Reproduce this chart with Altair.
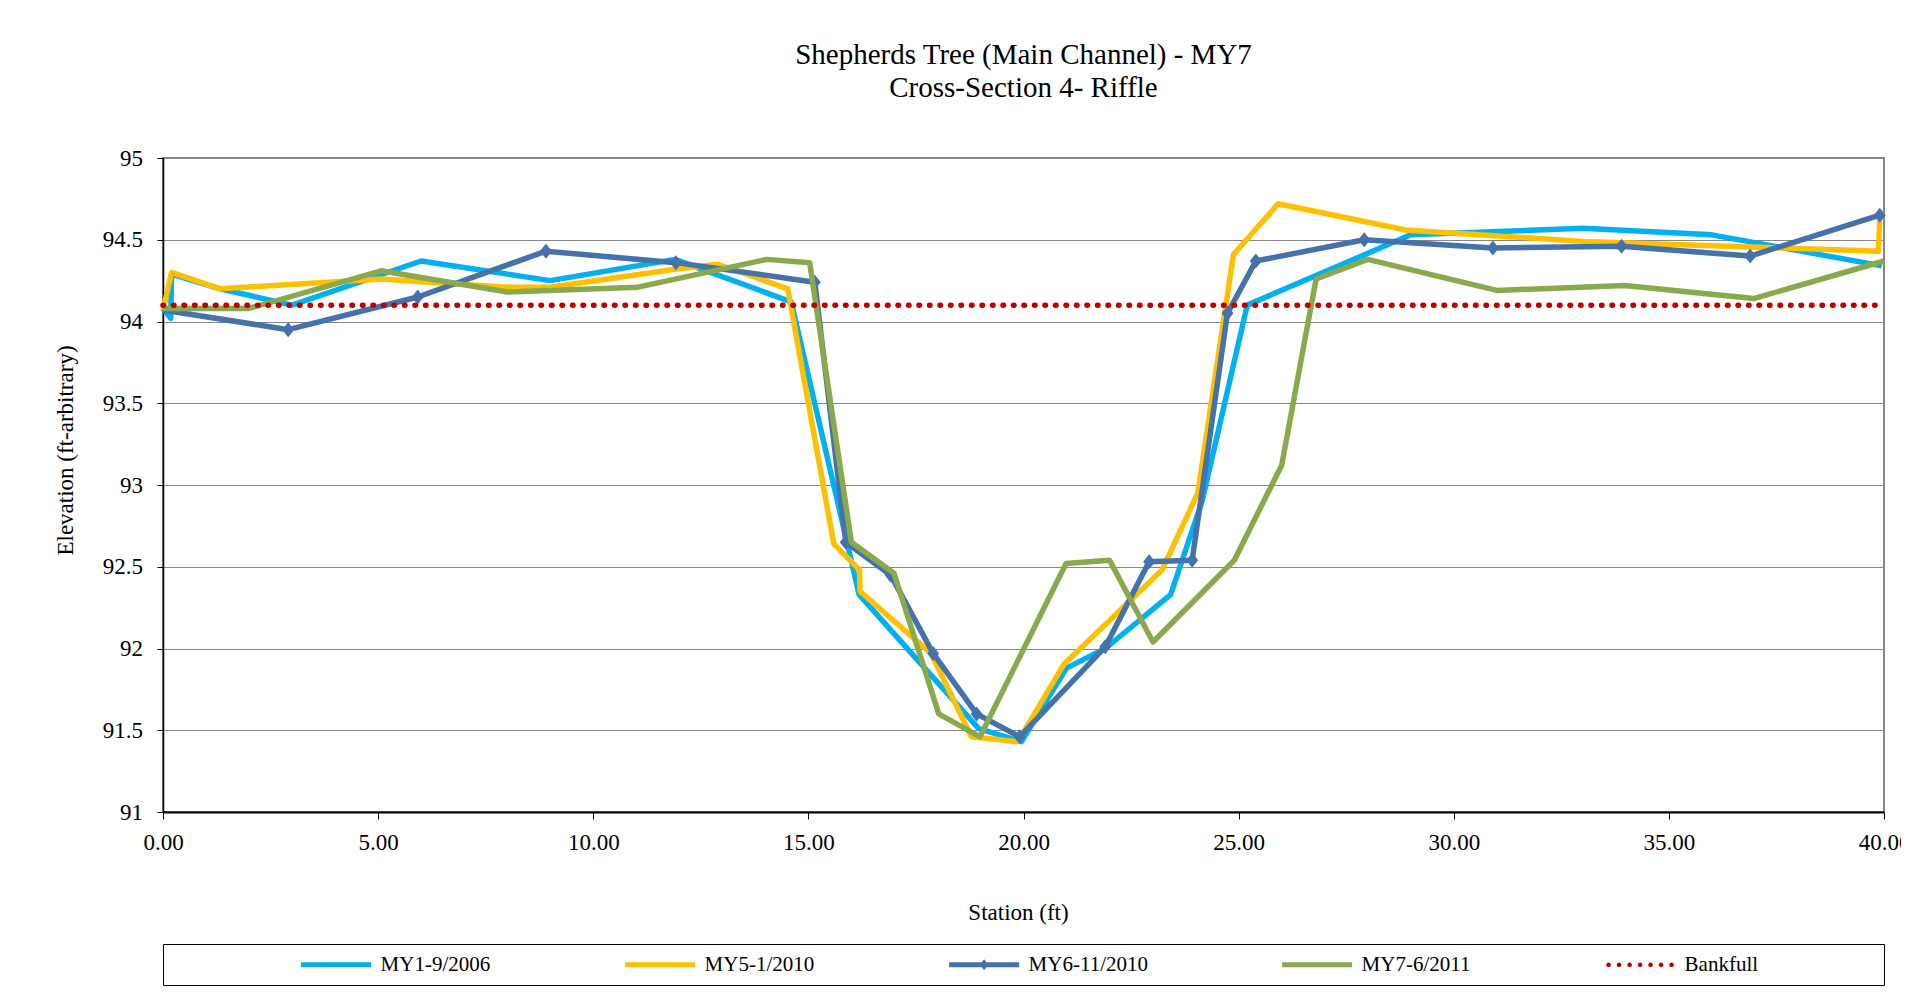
import altair as alt
import pandas as pd

# ---------------- data ----------------
series_names = ["MY1-9/2006", "MY5-1/2010", "MY6-11/2010", "MY7-6/2011", "Bankfull"]
series_colors = ["#00B0F0", "#FFC000", "#4572AB", "#89A94C", "#C00000"]

my1_station = [0.0, 0.18, 0.2, 1.33, 3.0, 6.0, 9.0, 11.9, 14.6, 16.18, 18.96, 19.95,
               21.0, 21.9, 23.42, 24.15, 25.2, 29.0, 33.0, 36.0, 39.95]
my1_elev = [94.08, 94.02, 94.29, 94.2, 94.1, 94.37, 94.25, 94.38, 94.12, 92.33, 91.51, 91.43,
            91.88, 92.0, 92.33, 92.9, 94.1, 94.53, 94.57, 94.53, 94.34]

my5_station = [0.0, 0.2, 1.33, 5.07, 8.0, 9.0, 11.9, 12.9, 14.52, 15.59, 16.19, 16.2, 17.85,
               18.79, 19.87, 20.93, 23.22, 24.05, 24.88, 25.92, 28.88, 33.0, 39.87, 39.9]
my5_elev = [94.07, 94.3, 94.2, 94.26, 94.21, 94.21, 94.32, 94.35, 94.2, 92.64, 92.48, 92.35, 91.97,
            91.46, 91.43, 91.9, 92.48, 92.95, 94.41, 94.72, 94.56, 94.49, 94.43, 94.62]

my6_station = [0.0, 2.91, 5.92, 8.9, 11.92, 15.15, 15.87, 16.91, 17.9, 18.91, 19.91, 21.9,
               22.92, 23.92, 24.74, 25.4, 27.92, 30.91, 33.9, 36.89, 39.9]
my6_elev = [94.07, 93.95, 94.15, 94.43, 94.36, 94.24, 92.65, 92.45, 91.97, 91.6, 91.46, 92.01,
            92.53, 92.54, 94.05, 94.37, 94.5, 94.45, 94.46, 94.4, 94.65]

my7_station = [0.0, 2.0, 5.07, 8.0, 11.04, 14.03, 15.03, 16.0, 16.99, 18.03, 18.99, 20.99,
               22.0, 23.01, 24.9, 26.0, 26.8, 28.0, 31.0, 33.97, 36.97, 40.0]
my7_elev = [94.08, 94.08, 94.31, 94.18, 94.21, 94.38, 94.36, 92.65, 92.46, 91.6, 91.46, 92.52,
            92.54, 92.04, 92.54, 93.12, 94.26, 94.38, 94.19, 94.22, 94.14, 94.37]

bankfull_station = [0.0, 40.0]
bankfull_elev = [94.1, 94.1]

x_ticks = [0, 5, 10, 15, 20, 25, 30, 35, 40]
y_ticks = [91, 91.5, 92, 92.5, 93, 93.5, 94, 94.5, 95]

title_lines = ["Shepherds Tree (Main Channel) - MY7", "Cross-Section 4- Riffle"]
x_title = "Station (ft)"
y_title = "Elevation (ft-arbitrary)"

# ---------------- table ----------------
frames = []
for name, st, el in zip(series_names,
                        [my1_station, my5_station, my6_station, my7_station, bankfull_station],
                        [my1_elev, my5_elev, my6_elev, my7_elev, bankfull_elev]):
    frames.append(pd.DataFrame({"series": name, "station": st, "elev": el, "idx": range(len(st))}))
df = pd.concat(frames, ignore_index=True)

FONT = "Liberation Serif"

# legend symbol shapes (unit = 7 px at symbolSize 196)
SYM_LINE = "M-5,-0.36L5,-0.36L5,0.36L-5,0.36Z"
SYM_MY6 = SYM_LINE + "M0,-0.8L0.6,0L0,0.8L-0.6,0Z"
SYM_DOTS = "".join(
    f"M{cx - 0.33:.2f},0a0.33,0.33 0 1,0 0.66,0a0.33,0.33 0 1,0 -0.66,0Z"
    for cx in [-4.5, -3.0, -1.5, 0.0, 1.5, 3.0, 4.5]
)
shape_expr = (
    "datum.value === 'MY6-11/2010' ? '" + SYM_MY6 + "' : "
    "datum.value === 'Bankfull' ? '" + SYM_DOTS + "' : '" + SYM_LINE + "'"
)

# trailing blank room after the last legend label (ZWSP keeps it from being trimmed)
pad_label = "Bankfull" + "\u00a0" * 22 + "\u200b"

legend = alt.Legend(
    title=None,
    orient="none", legendX=0, legendY=786,
    direction="horizontal", columns=5,
    symbolSize=196, symbolStrokeWidth=0, symbolOffset=152.6,
    symbolType={"expr": shape_expr},
    symbolFillColor={"expr": "scale('color', datum.value)"},
    symbolOpacity=1,
    labelOffset=34, columnPadding=6, padding=10,
    strokeColor="black", fillColor="white",
    labelFont=FONT, labelFontSize=21, labelColor="black", labelLimit=900,
    labelExpr="datum.label == 'Bankfull' ? '" + pad_label + "' : datum.label",
)

color = alt.Color(
    "series:N",
    scale=alt.Scale(domain=series_names, range=series_colors),
    legend=legend,
)

x_enc = alt.X(
    "station:Q",
    scale=alt.Scale(domain=[0, 40], nice=False, zero=False),
    axis=alt.Axis(
        title=x_title, values=x_ticks, format=".2f", grid=False,
        domainColor="black", domainWidth=2, tickColor="black", tickSize=7, tickWidth=1,
        labelPadding=12.5, labelFontSize=23, labelFont=FONT, labelColor="black",
        labelFlush=False, labelOverlap=False,
        titleFont=FONT, titleFontSize=23, titleFontWeight="normal", titleColor="black",
        titleX=855, titleY=100, titleAlign="center", titleBaseline="middle",
    ),
)
y_enc = alt.Y(
    "elev:Q",
    scale=alt.Scale(domain=[91, 95], nice=False, zero=False),
    axis=alt.Axis(
        title=y_title, values=y_ticks, format="~g", grid=True,
        gridColor="#878787", gridWidth=1,
        domainColor="black", domainWidth=1.5, tickColor="black", tickSize=6, tickWidth=1,
        labelPadding=14.5, labelFontSize=23, labelFont=FONT, labelColor="black",
        labelOverlap=False,
        titleFont=FONT, titleFontSize=23, titleFontWeight="normal", titleColor="black",
        titleX=-97.8, titleY=292, titleAngle=270, titleAlign="center", titleBaseline="middle",
    ),
)

base = alt.Chart(df)


def line_layer(name, **kw):
    return base.transform_filter(alt.datum.series == name).mark_line(
        strokeWidth=5.5, strokeJoin="round", **kw
    ).encode(x=x_enc, y=y_enc, color=color, order=alt.Order("idx:Q"))


layers = [
    line_layer("MY1-9/2006"),
    line_layer("MY5-1/2010"),
    line_layer("MY6-11/2010"),
    base.transform_filter((alt.datum.series == "MY6-11/2010") & (alt.datum.station > 0)).mark_point(
        shape="M0,-1L0.8,0L0,1L-0.8,0Z", filled=True, size=225, opacity=1, color="#4572AB"
    ).encode(x=x_enc, y=y_enc),
    line_layer("MY7-6/2011"),
    line_layer("Bankfull", strokeDash=[0.5, 10], strokeCap="round").encode(strokeWidth=alt.value(4.7)),
]

chart = alt.layer(*layers).properties(
    width=1721,
    height=654,
    autosize=alt.AutoSizeParams(type="none"),
    padding={"left": 155, "top": 150, "right": 17, "bottom": 176},
    title=alt.Title(
        text=title_lines, font=FONT, fontSize=29, fontWeight="normal", color="black",
        anchor="middle", frame="group", lineHeight=33, offset=44,
    ),
).configure_view(stroke="#868686", strokeWidth=2)

chart.save("out.html", embed_options={"renderer": "svg", "actions": False})
